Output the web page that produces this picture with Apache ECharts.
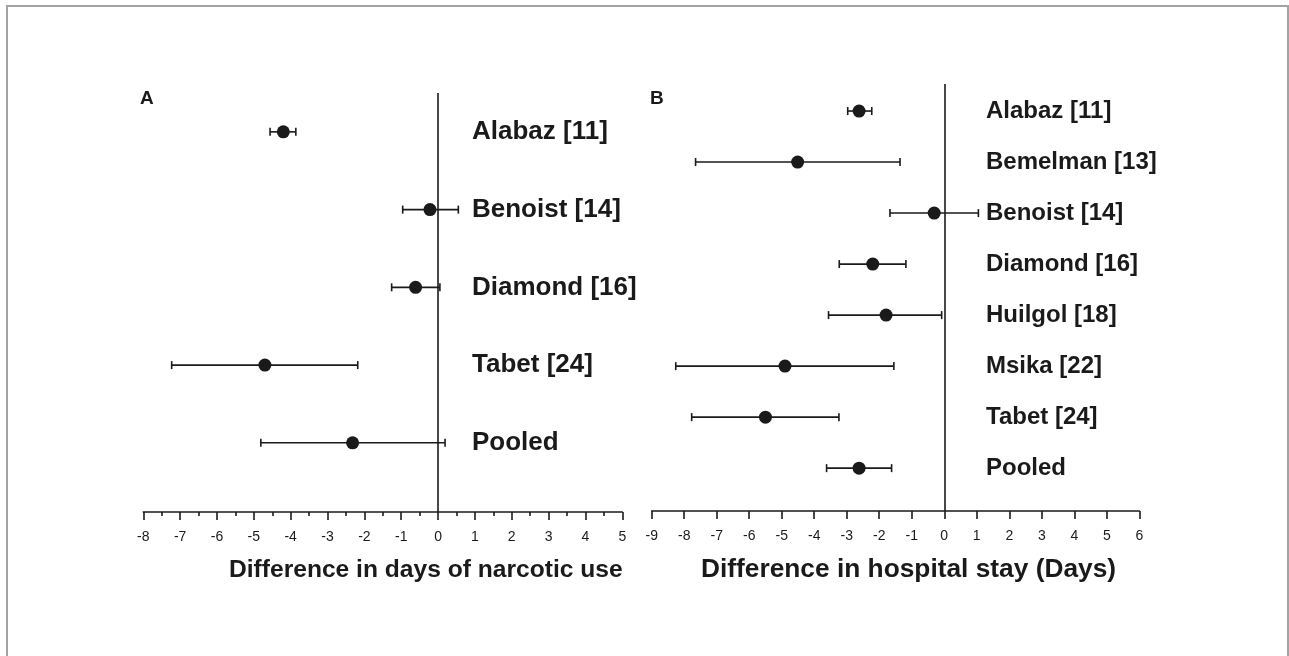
<!DOCTYPE html>
<html>
<head>
<meta charset="utf-8">
<script src="https://cdn.jsdelivr.net/npm/echarts@6/dist/echarts.min.js"></script>
<style>
html,body{margin:0;padding:0;background:#fff;}
#chart{width:1289px;height:656px;}
</style>
</head>
<body>
<div id="chart"></div>
<script>
// Panel A: difference in days of narcotic use
var studiesA = ['Alabaz [11]', 'Benoist [14]', 'Diamond [16]', 'Tabet [24]', 'Pooled'];
var meanA = [-4.20, -0.22, -0.61, -4.70, -2.32];
var lowA  = [-4.56, -0.96, -1.26, -7.23, -4.81];
var highA = [-3.86,  0.55,  0.05, -2.18,  0.19];

// Panel B: difference in hospital stay (days)
var studiesB = ['Alabaz [11]', 'Bemelman [13]', 'Benoist [14]', 'Diamond [16]', 'Huilgol [18]', 'Msika [22]', 'Tabet [24]', 'Pooled'];
var meanB = [-2.62, -4.51, -0.31, -2.20, -1.79, -4.90, -5.50, -2.62];
var lowB  = [-2.97, -7.65, -1.67, -3.23, -3.56, -8.26, -7.77, -3.62];
var highB = [-2.23, -1.36,  1.05, -1.18, -0.08, -1.55, -3.24, -1.62];

var ticksA = [-8, -7, -6, -5, -4, -3, -2, -1, 0, 1, 2, 3, 4, 5];
var ticksB = [-9, -8, -7, -6, -5, -4, -3, -2, -1, 0, 1, 2, 3, 4, 5, 6];

var panelLabels = ['A', 'B'];
var axisTitles = ['Difference in days of narcotic use', 'Difference in hospital stay (Days)'];

var FONT = '"Liberation Sans", Arial, Helvetica, sans-serif';
var INK = '#1a1a1a';

function rowsOf(names) {
  var n = names.length;
  return names.map(function (_, i) { return n - 1 - i; });
}
var rowsA = rowsOf(studiesA);
var rowsB = rowsOf(studiesB);

function pointData(mean, rows) {
  return mean.map(function (m, i) { return [m, rows[i]]; });
}
function barData(low, high, rows) {
  return low.map(function (l, i) { return [l, high[i], rows[i]]; });
}

function renderErr(params, api) {
  var p1 = api.coord([api.value(0), api.value(2)]);
  var p2 = api.coord([api.value(1), api.value(2)]);
  var h = 4;
  var style = { stroke: INK, lineWidth: 1.6, fill: null };
  return {
    type: 'group',
    children: [
      { type: 'line', shape: { x1: p1[0], y1: p1[1], x2: p2[0], y2: p2[1] }, style: style },
      { type: 'line', shape: { x1: p1[0], y1: p1[1] - h, x2: p1[0], y2: p1[1] + h }, style: style },
      { type: 'line', shape: { x1: p2[0], y1: p2[1] - h, x2: p2[0], y2: p2[1] + h }, style: style }
    ]
  };
}

function xAxisCfg(gridIndex, min, max, minor) {
  return {
    type: 'value', gridIndex: gridIndex, min: min, max: max, interval: 1,
    axisLine: { show: true, onZero: false, lineStyle: { color: INK, width: 1.6 } },
    axisTick: { show: true, length: 8, lineStyle: { color: INK, width: 1.6 } },
    minorTick: { show: minor, splitNumber: 2, length: 4, lineStyle: { color: INK, width: 1.6 } },
    splitLine: { show: false },
    minorSplitLine: { show: false },
    axisLabel: { color: INK, fontFamily: FONT, fontSize: 14, margin: 18 }
  };
}
function yAxisLabelCfg(gridIndex, min, max, names, rows, offset, fontSize) {
  return {
    type: 'value', gridIndex: gridIndex, min: min, max: max, position: 'right', offset: offset,
    axisLine: { show: false }, axisTick: { show: false }, splitLine: { show: false },
    axisLabel: {
      show: true, margin: 8, color: INK, fontFamily: FONT, fontWeight: 'bold', fontSize: fontSize,
      customValues: rows,
      formatter: function (v) {
        var idx = rows.indexOf(Math.round(v));
        return idx >= 0 ? names[idx] : '';
      }
    }
  };
}

var chart = echarts.init(document.getElementById('chart'), null, { renderer: 'canvas' });
var option = {
  backgroundColor: '#ffffff',
  animation: false,
  grid: [
    { left: 143.3, right: 1289 - 622.3, top: 93, bottom: 656 - 512, containLabel: false },
    { left: 651.7, right: 1289 - 1139.3, top: 84, bottom: 656 - 511, containLabel: false }
  ],
  xAxis: [
    xAxisCfg(0, ticksA[0], ticksA[ticksA.length - 1], true),
    xAxisCfg(1, ticksB[0], ticksB[ticksB.length - 1], false)
  ],
  yAxis: [
    yAxisLabelCfg(0, -0.89, 4.5, studiesA, rowsA, -(622.3 - 472 + 8), 26),
    yAxisLabelCfg(1, -0.84, 7.53, studiesB, rowsB, -(1139.3 - 986 + 8), 24)
  ],
  graphic: [
    { type: 'rect', shape: { x: 7, y: 6, width: 1281, height: 800 }, style: { fill: null, stroke: '#a3a3a3', lineWidth: 2 }, silent: true },
    { type: 'text', x: 140, y: 99, style: { text: panelLabels[0], fill: INK, font: 'bold 19px ' + FONT, verticalAlign: 'middle' } },
    { type: 'text', x: 650, y: 99, style: { text: panelLabels[1], fill: INK, font: 'bold 19px ' + FONT, verticalAlign: 'middle' } },
    { type: 'text', x: 229, y: 570, style: { text: axisTitles[0], fill: INK, font: 'bold 24.6px ' + FONT, verticalAlign: 'middle' } },
    { type: 'text', x: 701, y: 570, style: { text: axisTitles[1], fill: INK, font: 'bold 26.3px ' + FONT, verticalAlign: 'middle' } }
  ],
  series: [
    {
      type: 'custom', xAxisIndex: 0, yAxisIndex: 0, renderItem: renderErr,
      data: barData(lowA, highA, rowsA), z: 2
    },
    {
      type: 'scatter', xAxisIndex: 0, yAxisIndex: 0, symbol: 'circle', symbolSize: 13,
      itemStyle: { color: INK, opacity: 1 }, data: pointData(meanA, rowsA), z: 3,
      markLine: {
        silent: true, symbol: 'none', label: { show: false },
        lineStyle: { color: INK, width: 1.6, type: 'solid' },
        data: [{ xAxis: 0 }]
      }
    },
    {
      type: 'custom', xAxisIndex: 1, yAxisIndex: 1, renderItem: renderErr,
      data: barData(lowB, highB, rowsB), z: 2
    },
    {
      type: 'scatter', xAxisIndex: 1, yAxisIndex: 1, symbol: 'circle', symbolSize: 13,
      itemStyle: { color: INK, opacity: 1 }, data: pointData(meanB, rowsB), z: 3,
      markLine: {
        silent: true, symbol: 'none', label: { show: false },
        lineStyle: { color: INK, width: 1.6, type: 'solid' },
        data: [{ xAxis: 0 }]
      }
    }
  ]
};
chart.setOption(option);
</script>
</body>
</html>
